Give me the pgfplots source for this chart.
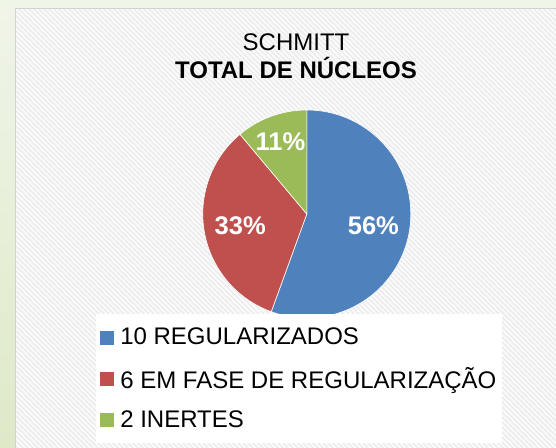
\documentclass[border=0pt]{standalone}
\usepackage{pgfplots}
\usepackage{pgfplotstable}
\pgfplotsset{compat=1.18}
\usepackage{fontspec}
\setmainfont{Liberation Sans}
\definecolor{pieblue}{RGB}{79,129,189}
\definecolor{piered}{RGB}{192,80,77}
\definecolor{piegreen}{RGB}{155,187,89}
\definecolor{bgtop}{RGB}{240,245,233}
\definecolor{bgbot}{RGB}{222,233,200}
\definecolor{hatch}{RGB}{236,236,236}

\pgfplotstableread{
idx value lr
0 10 0.65
1 6 0.65
2 2 0.74
}\piedata
\pgfplotstablecreatecol[create col/expr accum={\pgfmathaccuma + \thisrow{value}}{0}]{cum}\piedata
\pgfplotstablegetelem{2}{cum}\of\piedata
\edef\pietotal{\pgfplotsretval}
\def\pieR{104bp}

\begin{document}
\begin{tikzpicture}[x=1bp,y=1bp]
\useasboundingbox (0,0) rectangle (556,448);
% background
\shade[top color=bgtop, bottom color=bgbot] (0,0) rectangle (556,448);
\fill[white!98!gray] (15.5,0) rectangle (556,439.5);
\begin{scope}
\clip (15.5,0) rectangle (556,439.5);
\foreach \i in {-460,-455,...,560} {
  \draw[hatch, line width=1.6bp] (\i,448) -- (\i+460,-12);
}
\end{scope}
\draw[gray!35, line width=0.8bp] (15.5,0) -- (15.5,439.5) -- (556,439.5);
% title
\node[anchor=base, inner sep=0pt, font=\fontsize{24bp}{28.8bp}\selectfont] at (296,397.3) {SCHMITT};
\node[anchor=base, inner sep=0pt, font=\fontsize{24bp}{28.8bp}\selectfont\bfseries] at (296,369.7) {TOTAL DE NÚCLEOS};

\begin{axis}[
  at={(295,225)}, anchor=origin,
  hide axis, scale only axis,
  width=208bp, height=208bp,
  xmin=-1, xmax=1, ymin=-1, ymax=1,
  clip=false,
  legend image code/.code={\fill[#1] (0bp,-6.5bp) rectangle (13bp,6.5bp); \path[draw=none, fill=none] (0bp,-1bp) rectangle (18bp,1bp);},
  legend style={
    at={(-0.514,0.019)}, anchor=north west,
    draw=none, fill=white,
    font=\fontsize{24bp}{28.8bp}\selectfont,
    inner xsep=4bp, inner ysep=12bp,
    row sep=17bp,
    cells={anchor=west},
  },
  legend cell align=left,
]
\addplot[forget plot, scatter, only marks, mark=*, mark size=0pt,
  point meta=\thisrow{value},
  visualization depends on={\thisrow{value}\as\sval},
  visualization depends on={\thisrow{cum}\as\scum},
  visualization depends on={\thisrow{lr}\as\slr},
  visualization depends on={\thisrow{idx}\as\sidx},
  scatter/@pre marker code/.code={%
    \pgfmathsetmacro\sa{90-360*(\scum-\sval)/\pietotal}%
    \pgfmathsetmacro\ea{90-360*\scum/\pietotal}%
    \pgfmathsetmacro\ma{(\sa+\ea)/2}%
    \pgfmathtruncatemacro\pct{round(100*\sval/\pietotal)}%
    \pgfmathtruncatemacro\k{round(\sidx)}%
    \ifcase\k\relax \def\scol{pieblue}\or\def\scol{piered}\else\def\scol{piegreen}\fi
    \pgfmathsetmacro\lrad{\slr*104}%
    \fill[\scol, draw=white, line width=0.6bp] (\sa:\pieR) arc[start angle=\sa, end angle=\ea, radius=\pieR] -- (0:0bp) -- cycle;
    \node[text=white, font=\fontsize{25.5bp}{30bp}\selectfont\bfseries] at (\ma:\lrad bp) {\pct\%};
  },
  scatter/@post marker code/.code={},
] table[x expr=0, y expr=0] {\piedata};
\addlegendimage{pieblue}
\addlegendentry{10 REGULARIZADOS}
\addlegendimage{piered}
\addlegendentry{6 EM FASE DE REGULARIZAÇÃO}
\addlegendimage{piegreen}
\addlegendentry{2 INERTES}
\end{axis}
\end{tikzpicture}
\end{document}
